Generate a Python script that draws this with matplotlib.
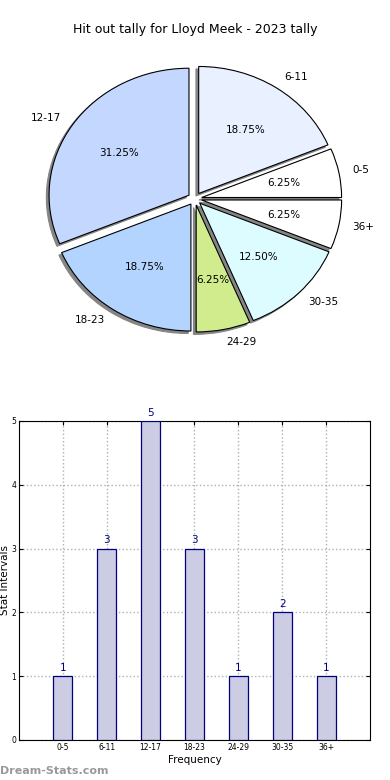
import matplotlib
matplotlib.use("Agg")
import matplotlib.pyplot as plt
import numpy as np

categories = ["0-5", "6-11", "12-17", "18-23", "24-29", "30-35", "36+"]
counts = [1, 3, 5, 3, 1, 2, 1]
pie_colors = ["#ffffff", "#e9f0ff", "#c4d8ff", "#b3d4ff", "#d0ec8c", "#dcfcff", "#ffffff"]
title = "Hit out tally for Lloyd Meek - 2023 tally"
y_ticks = [0, 1, 2, 3, 4, 5]

fig = plt.figure(figsize=(3.9, 7.8), dpi=100)

# Pie
ax1 = fig.add_axes([0.051, 0.5417, 0.897, 0.407])
wedges, texts, autotexts = ax1.pie(
    counts, labels=categories, colors=pie_colors, autopct="%.2f%%",
    explode=[0.05] * len(counts),
    shadow=dict(ox=-0.014, oy=-0.014, facecolor="#858585", edgecolor="#858585", alpha=1.0),
    startangle=0,
    labeldistance=1.1, pctdistance=0.6,
    wedgeprops=dict(edgecolor="black", linewidth=0.8),
    textprops=dict(fontsize=7.5))
ax1.set_aspect("auto")
ax1.set_xlim(-1.25, 1.25)
ax1.set_ylim(-1.25, 1.25)
fig.text(0.5, 0.962, title, ha="center", va="center", fontsize=9)

# Bars
ax2 = fig.add_axes([0.0487, 0.0513, 0.9, 0.409])
x = np.arange(len(categories))
ax2.bar(x, counts, width=0.43, color="#ccccE4", edgecolor="#000080", linewidth=0.9, zorder=3)
for xi, c in zip(x, counts):
    ax2.text(xi, c + 0.05, str(c), ha="center", va="bottom", color="#000080", fontsize=7.5)
ax2.set_xlim(-1, 7)
ax2.set_ylim(0, 5)
ax2.set_xticks(x)
ax2.set_xticklabels(categories, fontsize=5.5)
ax2.set_yticks(y_ticks)
ax2.set_yticklabels([str(t) for t in y_ticks], fontsize=5.5)
ax2.tick_params(direction="in", top=True, right=True, length=3, pad=2)
ax2.grid(True, linestyle=":", color="#b0b0b0", linewidth=1, zorder=0)
ax2.set_xlabel("Frequency", fontsize=7.5, labelpad=2)
ax2.set_ylabel("Stat Intervals", fontsize=7.5, labelpad=1)

fig.text(0.0, 0.012, "Dream-Stats.com", ha="left", va="center", fontsize=8,
         color="#999999", fontweight="bold")

fig.savefig("out.png", dpi=100)
